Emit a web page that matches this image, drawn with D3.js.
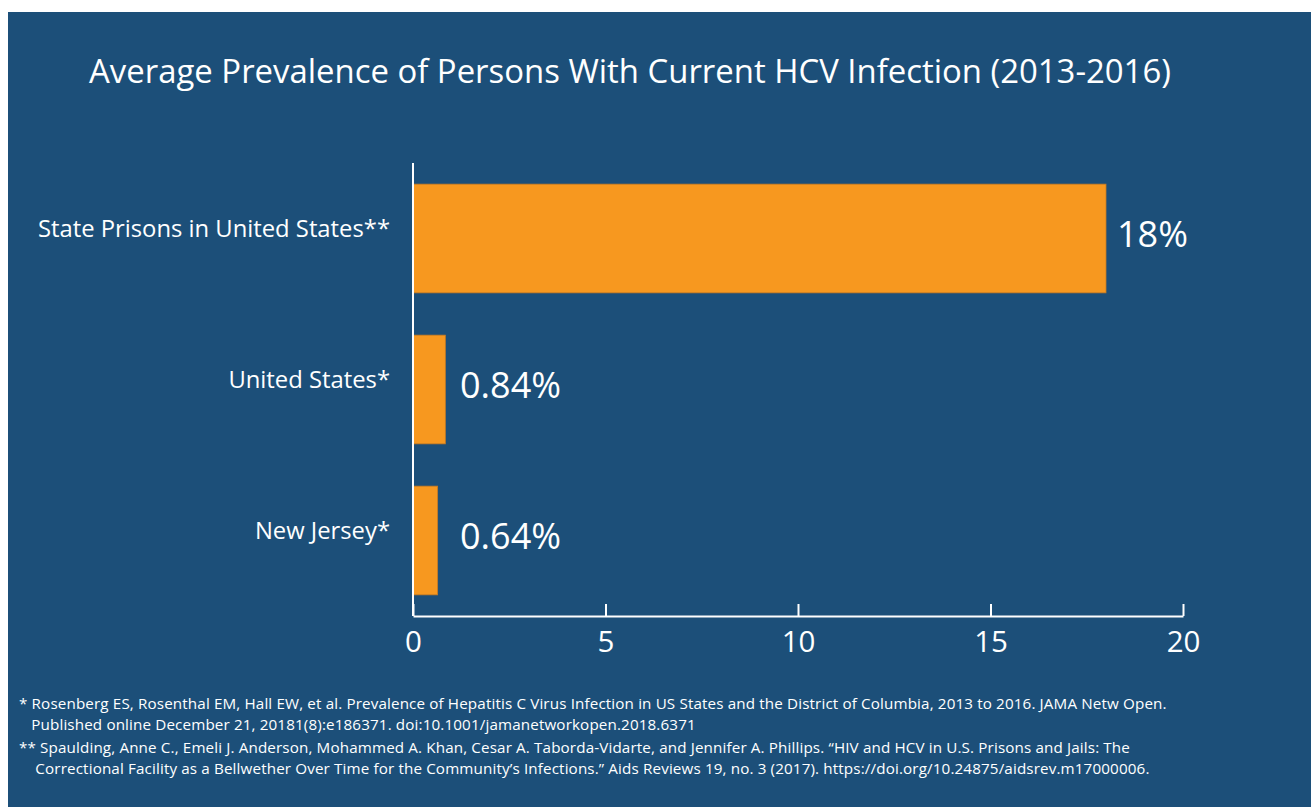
<!DOCTYPE html>
<html>
<head>
<meta charset="utf-8">
<script src="https://cdn.jsdelivr.net/npm/d3@7/dist/d3.min.js"></script>
<style>
  html, body { margin: 0; padding: 0; background: #ffffff; }
  svg { display: block; }
  text { font-family: "Open Sans", "Noto Sans", sans-serif; fill: #ffffff; }
</style>
</head>
<body>
<svg id="chart" width="1311" height="807"></svg>
<script>
// HCV prevalence, percent of persons with current infection
const categories = ["State Prisons in United States**", "United States*", "New Jersey*"];
const values = [18, 0.84, 0.64];
const valueLabels = ["18%", "0.84%", "0.64%"];
const tickValues = [0, 5, 10, 15, 20];
const titleText = "Average Prevalence of Persons With Current HCV Infection (2013-2016)";
const footnotes = [
  "* Rosenberg ES, Rosenthal EM, Hall EW, et al. Prevalence of Hepatitis C Virus Infection in US States and the District of Columbia, 2013 to 2016. JAMA Netw Open.",
  "   Published online December 21, 20181(8):e186371. doi:10.1001/jamanetworkopen.2018.6371",
  "** Spaulding, Anne C., Emeli J. Anderson, Mohammed A. Khan, Cesar A. Taborda-Vidarte, and Jennifer A. Phillips. \u201cHIV and HCV in U.S. Prisons and Jails: The",
  "    Correctional Facility as a Bellwether Over Time for the Community\u2019s Infections.\u201d Aids Reviews 19, no. 3 (2017). https://doi.org/10.24875/aidsrev.m17000006."
];

const svg = d3.select("#chart");
const bg = "#1c4f79";
const barColor = "#f7981f";

svg.append("rect")
  .attr("x", 8).attr("y", 12)
  .attr("width", 1311 - 8).attr("height", 807 - 12)
  .attr("fill", bg);

svg.append("text")
  .attr("x", 630).attr("y", 83)
  .attr("text-anchor", "middle")
  .attr("font-size", 32.9)
  .text(titleText);

const plot = { left: 413, right: 1183, top: 163, bottom: 616 };

const x = d3.scaleLinear().domain([0, 20]).range([plot.left, plot.right]);
const y = d3.scaleBand().domain(categories).range([plot.top, plot.bottom])
  .paddingInner(0.28).paddingOuter(0.14);

// bars
svg.append("g").selectAll("rect")
  .data(categories)
  .join("rect")
  .attr("x", x(0))
  .attr("y", d => y(d))
  .attr("width", (d, i) => x(values[i]) - x(0))
  .attr("height", y.bandwidth())
  .attr("fill", barColor)
  .attr("stroke", "#c77a22")
  .attr("stroke-width", 0.8);

// value labels: right of the bar, with a minimum inset for short bars
svg.append("g").selectAll("text")
  .data(categories)
  .join("text")
  .attr("x", (d, i) => Math.max(x(values[i]) + 11, x(0) + 47))
  .attr("y", d => y(d) + y.bandwidth() / 2 - 4)
  .attr("dy", "0.35em")
  .attr("font-size", 36)
  .text((d, i) => valueLabels[i]);

// category labels
svg.append("g").selectAll("text")
  .data(categories)
  .join("text")
  .attr("x", 390)
  .attr("y", d => y(d) + y.bandwidth() / 2 - 10)
  .attr("dy", "0.35em")
  .attr("text-anchor", "end")
  .attr("font-size", 23.8)
  .text(d => d);

// x axis with upward ticks
const xAxis = d3.axisBottom(x).tickValues(tickValues).tickSize(-12).tickPadding(15).tickSizeOuter(0);
const gx = svg.append("g")
  .attr("transform", `translate(0,${plot.bottom})`)
  .call(xAxis);
gx.select(".domain").attr("stroke", "#ffffff").attr("stroke-width", 2);
gx.selectAll(".tick line").attr("stroke", "#ffffff").attr("stroke-width", 2);
gx.selectAll(".tick text")
  .attr("fill", "#ffffff")
  .attr("font-size", 29.5)
  .attr("font-family", "\"Open Sans\", \"Noto Sans\", sans-serif")
  .attr("dy", "0.71em");

// vertical baseline
svg.append("line")
  .attr("x1", x(0)).attr("x2", x(0))
  .attr("y1", plot.top).attr("y2", plot.bottom)
  .attr("stroke", "#ffffff").attr("stroke-width", 2);

// footnotes
svg.append("g").selectAll("text")
  .data(footnotes)
  .join("text")
  .attr("x", 19)
  .attr("y", (d, i) => [709, 730, 753, 774][i])
  .attr("font-size", 15.2)
  .attr("letter-spacing", 0.14)
  .attr("xml:space", "preserve")
  .style("white-space", "pre")
  .text(d => d);
</script>
</body>
</html>
